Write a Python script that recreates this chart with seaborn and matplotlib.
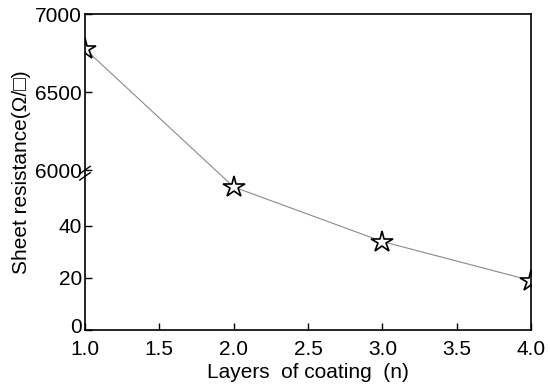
import numpy as np
import pandas as pd
import matplotlib
matplotlib.use('Agg')
import matplotlib.pyplot as plt
import matplotlib.transforms as mtransforms
import seaborn as sns

# ─── DATA ─────────────────────────────────────────────────────────────────────
layers = [1.0, 2.0, 3.0, 4.0]
resistance = [6776, 55, 34, 19]
y_ticks = [0, 20, 40, 6000, 6500, 7000]
x_ticks = [1.0, 1.5, 2.0, 2.5, 3.0, 3.5, 4.0]

# broken axis: 0..LOW_TOP linear, then 6000..7000 compressed on top
LOW_TOP = 61.5
HIGH_START = 6000
HIGH_K = 0.06


def forward(y):
    y = np.asarray(y, dtype=float)
    return np.where(y <= LOW_TOP, y, LOW_TOP + (y - HIGH_START) * HIGH_K)


def inverse(v):
    v = np.asarray(v, dtype=float)
    return np.where(v <= LOW_TOP, v, HIGH_START + (v - LOW_TOP) / HIGH_K)


df = pd.DataFrame({'layers': layers, 'resistance': resistance})

sns.set_theme(style='white')
plt.rcParams['font.family'] = ['Liberation Sans', 'DejaVu Sans']
plt.rcParams['text.color'] = 'black'
plt.rcParams['axes.labelcolor'] = 'black'

fig = plt.figure(figsize=(5.5, 3.9), dpi=100)
ax = fig.add_axes([0.1545, 0.154, 0.811, 0.810])

sns.lineplot(data=df, x='layers', y='resistance', ax=ax, color='#8a8a8a',
             linewidth=0.8, marker='*', markersize=16, markerfacecolor='white',
             markeredgecolor='black', markeredgewidth=1.2, zorder=3)

ax.set_yscale('function', functions=(forward, inverse))
ax.set_ylim(0, 7000)
ax.set_xlim(1.0, 4.0)
ax.set_yticks(y_ticks)
ax.set_yticklabels([str(t) for t in y_ticks])
ax.set_xticks(x_ticks)
ax.set_xticklabels([f'{t:.1f}' for t in x_ticks])
ax.minorticks_off()

for s in ax.spines.values():
    s.set_color('black')
    s.set_linewidth(1.2)
    s.set_zorder(4)

ax.tick_params(axis='both', direction='in', length=5, width=1.0, colors='black',
               labelcolor='black', labelsize=15, left=True, bottom=True)
ax.tick_params(axis='y', pad=2)
ax.tick_params(axis='x', pad=7)

# nudge the "0" label up a little so it clears "1.0" as in the reference
zero_lbl = ax.get_yticklabels()[0]
zero_lbl.set_transform(zero_lbl.get_transform()
                       + mtransforms.ScaledTranslation(0, 3 / 72, fig.dpi_scale_trans))

ax.set_xlabel('Layers  of coating  (n)', fontsize=15, labelpad=3)
ax.set_ylabel('Sheet resistance(Ω/□)', fontsize=15, labelpad=3)

# break marks on the left spine
yb = forward(HIGH_START) / forward(7000)
ax.plot([-0.012, 0.012], [yb - 0.012, yb + 0.012], transform=ax.transAxes,
        color='black', lw=1.0, clip_on=False, zorder=5)
ax.plot([-0.012, 0.012], [yb - 0.032, yb - 0.008], transform=ax.transAxes,
        color='black', lw=1.0, clip_on=False, zorder=5)
ax.plot([0, 0], [yb - 0.014, yb - 0.006], transform=ax.transAxes,
        color='white', lw=2.5, clip_on=False, zorder=4)

fig.savefig('out.png', dpi=100)
